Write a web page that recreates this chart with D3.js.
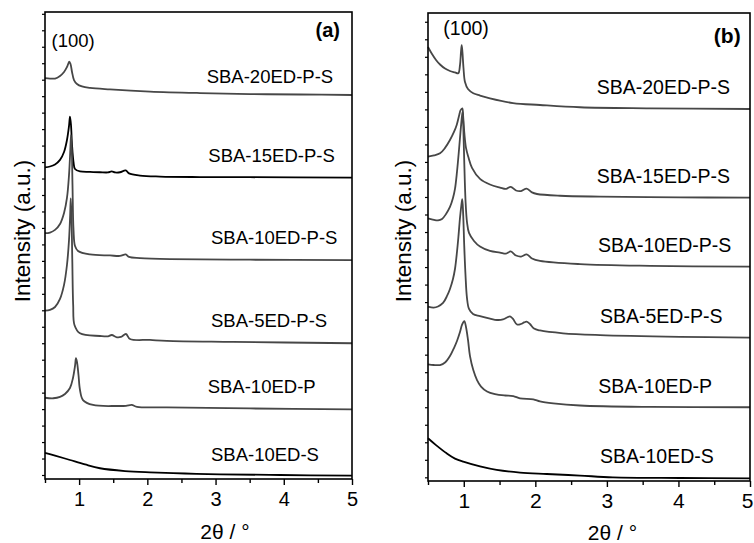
<!DOCTYPE html>
<html><head><meta charset="utf-8">
<script src="https://cdn.jsdelivr.net/npm/d3@7"></script>
<style>body{margin:0;background:#fff} text{font-family:"Liberation Sans",Arial,Helvetica,sans-serif;fill:#000}</style>
</head><body><svg id="c" width="754" height="543"></svg>
<script>
// ---------- DATA ----------
const seriesNames = ["SBA-20ED-P-S","SBA-15ED-P-S","SBA-10ED-P-S","SBA-5ED-P-S","SBA-10ED-P","SBA-10ED-S"];
const xTickValues = [1,2,3,4,5];
const xMinorValues = [0.5,1.5,2.5,3.5,4.5];
const peakLabel = "(100)";

// Panel (a)
const a20_x = [0.5,0.573,0.647,0.72,0.779,0.822,0.856,0.874,0.896,0.925,0.969,1.042,1.16,1.453,2.039,2.772,3.505,4.238,5.0];
const a20_y = [24.09,24.07,24.07,24.23,24.47,24.77,25.09,24.95,24.47,23.98,23.74,23.59,23.50,23.41,23.28,23.19,23.13,23.10,23.07];
const a15_x = [0.5,0.573,0.647,0.72,0.779,0.822,0.852,0.866,0.881,0.896,0.918,0.94,1.013,1.16,1.306,1.423,1.478,1.526,1.599,1.683,1.731,1.893,2.186,2.772,3.505,5.0];
const a15_y = [18.68,18.73,18.85,19.13,19.61,20.34,21.19,21.75,21.25,20.04,19.00,18.58,18.43,18.40,18.38,18.37,18.43,18.37,18.38,18.49,18.31,18.18,18.12,18.09,18.08,18.05];
const a10_x = [0.5,0.573,0.647,0.72,0.779,0.822,0.852,0.871,0.881,0.893,0.903,0.918,0.94,0.984,1.16,1.453,1.599,1.683,1.731,1.893,2.332,3.505,5.0];
const a10_y = [14.68,14.72,14.88,15.24,15.91,16.82,18.21,19.73,20.64,19.73,17.61,14.88,13.90,13.60,13.39,13.33,13.30,13.39,13.24,13.17,13.11,13.07,13.05];
const a5_x = [0.5,0.573,0.647,0.72,0.779,0.822,0.852,0.869,0.877,0.888,0.900,0.913,0.932,1.013,1.306,1.423,1.478,1.555,1.614,1.687,1.746,2.039,2.284,3.256,5.0];
const a5_y = [9.98,10.02,10.20,10.69,11.54,12.75,14.27,15.79,16.80,15.79,13.05,10.32,9.11,8.60,8.44,8.42,8.50,8.36,8.38,8.56,8.26,8.20,8.14,8.08,8.00];
const a10P_x = [0.5,0.622,0.72,0.793,0.866,0.910,0.94,0.954,0.969,0.991,1.013,1.057,1.204,1.555,1.687,1.771,1.849,2.288,3.505,5.0];
const a10P_y = [4.69,4.66,4.74,4.92,5.28,5.89,6.62,7.09,6.86,6.07,5.16,4.55,4.25,4.19,4.20,4.26,4.14,4.11,4.04,3.99];
const a10S_x = [0.5,0.647,0.866,1.086,1.306,1.673,2.039,2.552,3.065,3.945,5.0];
const a10S_y = [1.35,1.18,0.91,0.64,0.41,0.24,0.16,0.09,0.04,0.0,-0.04];

// Panel (b)
const b20_x = [0.5,0.556,0.612,0.668,0.738,0.807,0.877,0.923,0.947,0.961,0.971,0.981,0.996,1.017,1.059,1.133,1.227,1.366,1.688,2.065,2.624,3.602,5.0];
const b20_y = [24.56,24.16,23.82,23.56,23.33,23.19,23.11,23.06,23.53,24.28,24.67,24.28,23.36,22.56,22.16,21.92,21.79,21.63,21.36,21.25,21.12,21.06,21.02];
const b15_x = [0.5,0.584,0.668,0.738,0.807,0.863,0.901,0.933,0.954,0.979,0.993,1.010,1.031,1.063,1.115,1.227,1.366,1.506,1.590,1.656,1.730,1.800,1.879,1.953,2.023,2.345,2.904,4.022,5.0];
const b15_y = [18.30,18.37,18.49,18.80,19.25,19.71,20.11,20.62,20.94,21.06,20.51,19.54,18.80,18.29,17.66,17.03,16.71,16.54,16.46,16.58,16.37,16.34,16.48,16.26,16.17,16.07,16.02,15.98,15.96];
const b10_x = [0.5,0.566,0.640,0.696,0.752,0.807,0.849,0.877,0.905,0.933,0.954,0.975,0.984,0.993,1.006,1.024,1.045,1.073,1.143,1.227,1.366,1.506,1.590,1.656,1.730,1.800,1.879,1.953,2.065,2.624,3.602,5.0];
const b10_y = [14.78,14.71,14.66,14.74,15.03,15.43,15.94,16.46,17.43,18.68,19.71,20.62,20.85,20.11,18.11,15.83,14.57,13.95,13.49,13.17,12.92,12.83,12.77,12.89,12.66,12.60,12.72,12.49,12.35,12.17,12.07,12.02];
const b5_x = [0.5,0.580,0.640,0.710,0.766,0.807,0.849,0.877,0.905,0.926,0.947,0.965,0.979,0.992,1.006,1.024,1.045,1.073,1.129,1.227,1.366,1.464,1.548,1.604,1.646,1.688,1.744,1.800,1.842,1.879,1.925,1.981,2.065,2.387,2.904,4.022,5.0];
const b5_y = [9.74,9.69,9.75,9.95,10.35,10.75,11.32,11.89,12.86,13.77,14.80,15.48,15.87,14.97,13.26,11.55,10.23,9.61,9.32,9.20,9.06,8.98,9.01,9.12,9.19,9.04,8.72,8.75,8.84,8.88,8.75,8.49,8.38,8.22,8.12,8.02,7.97];
const b10P_x = [0.5,0.580,0.668,0.738,0.807,0.863,0.905,0.947,0.975,1.007,1.031,1.059,1.087,1.133,1.185,1.241,1.325,1.436,1.576,1.692,1.786,1.972,2.065,2.251,2.624,3.602,5.0];
const b10P_y = [6.45,6.41,6.41,6.55,6.92,7.38,7.78,8.29,8.70,8.92,8.58,7.84,6.92,6.12,5.55,5.18,4.90,4.75,4.67,4.64,4.50,4.45,4.33,4.22,4.10,4.02,4.00];
const b10S_x = [0.5,0.612,0.761,0.877,0.993,1.227,1.460,1.786,2.159,2.624,3.085,4.022,5.0];
const b10S_y = [2.23,1.84,1.37,1.07,0.89,0.62,0.42,0.27,0.19,0.10,0.0,-0.04,-0.06];

// ---------- LAYOUT ----------
const svg = d3.select("#c");
const GRAY = "#474747", BLACK = "#000";
const panels = [
  { id:"(a)", left:45, right:352, top:12, bottom:479, yDom:[-0.243,28.11], yTicks:d3.range(0,29),
    fs:18.5, tickFs:20, titleFs:21, tickPad:6.8,
    series:[[a20_x,a20_y,GRAY],[a15_x,a15_y,BLACK],[a10_x,a10_y,GRAY],[a5_x,a5_y,GRAY],[a10P_x,a10P_y,GRAY],[a10S_x,a10S_y,BLACK]],
    labels:[[206.7,82.7],[208.3,161.7],[211,244.3],[211,327.3],[207.7,393.3],[211,460.7]],
    peak:[51.5,46.7], tag:[340,37], xTitle:[225,539], yTitle:[30,231] },
  { id:"(b)", left:428, right:750, top:13, bottom:481, yDom:[-0.21,26.5], yTicks:d3.range(0,27),
    fs:19.5, tickFs:21, titleFs:21, tickPad:6.1,
    series:[[b20_x,b20_y,GRAY],[b15_x,b15_y,GRAY],[b10_x,b10_y,GRAY],[b5_x,b5_y,GRAY],[b10P_x,b10P_y,GRAY],[b10S_x,b10S_y,BLACK]],
    labels:[[596.7,94.3],[596.7,182.7],[598,251.7],[600,322.7],[598.3,392.7],[600,463.3]],
    peak:[443.3,35], tag:[740.7,43.3], xTitle:[612.5,540], yTitle:[411,231] }
];

panels.forEach((p,pi) => {
  const x = d3.scaleLinear().domain([0.5,5]).range([p.left,p.right]);
  const y = d3.scaleLinear().domain(p.yDom).range([p.bottom,p.top]);
  const g = svg.append("g");

  // curves
  const line = d3.line().x(d=>x(d[0])).y(d=>y(d[1])).curve(d3.curveCatmullRom.alpha(0.5));
  p.series.forEach(([xs,ys,col]) => {
    const pts = xs.map((v,i)=>[v,ys[i]]);
    g.append("path").attr("d",line(pts)).attr("fill","none").attr("stroke",col)
      .attr("stroke-width",1.8).attr("stroke-linejoin","round");
  });

  // x axis major
  const xa = g.append("g").attr("transform",`translate(0,${p.bottom})`)
    .call(d3.axisBottom(x).tickValues(xTickValues).tickSize(6).tickPadding(p.tickPad).tickFormat(d3.format("d")));
  xa.select(".domain").remove();
  xa.selectAll("line").attr("stroke","#000").attr("stroke-width",1.4);
  xa.selectAll("text").style("font-size",p.tickFs+"px").style("font-family","'Liberation Sans',Arial,sans-serif");
  if (pi === 1) {
    // keep the last label inside the picture edge
    xa.selectAll(".tick").filter(d => d === 5).select("text").attr("text-anchor","end").attr("x",3);
  }
  // x axis minor
  const xm = g.append("g").attr("transform",`translate(0,${p.bottom})`)
    .call(d3.axisBottom(x).tickValues(xMinorValues).tickSize(4).tickFormat(""));
  xm.select(".domain").remove();
  xm.selectAll("line").attr("stroke","#000").attr("stroke-width",1.4);

  // y axis ticks (no labels)
  const ya = g.append("g").attr("transform",`translate(${p.left},0)`)
    .call(d3.axisLeft(y).tickValues(p.yTicks).tickSize(3).tickFormat(""));
  ya.select(".domain").remove();
  ya.selectAll("line").attr("stroke","#000").attr("stroke-width",1.2);

  // frame
  g.append("rect").attr("x",p.left).attr("y",p.top).attr("width",p.right-p.left).attr("height",p.bottom-p.top)
    .attr("fill","none").attr("stroke","#000").attr("stroke-width",1.6);

  // series labels
  seriesNames.forEach((n,i) => {
    g.append("text").attr("x",p.labels[i][0]).attr("y",p.labels[i][1]).style("font-size",p.fs+"px").text(n);
  });
  g.append("text").attr("x",p.peak[0]).attr("y",p.peak[1]).style("font-size",p.fs+"px").text(peakLabel);
  g.append("text").attr("x",p.tag[0]).attr("y",p.tag[1]).attr("text-anchor","end")
    .style("font-size",(p.fs+1.5)+"px").style("font-weight","bold").text(p.id);

  // axis titles
  g.append("text").attr("x",p.xTitle[0]).attr("y",p.xTitle[1]).attr("text-anchor","middle")
    .style("font-size",p.titleFs+"px").text("2θ / °");
  g.append("text").attr("transform",`translate(${p.yTitle[0]},${p.yTitle[1]}) rotate(-90)`)
    .attr("text-anchor","middle").style("font-size",(p.titleFs+1.5)+"px").text("Intensity (a.u.)");
});
</script></body></html>
